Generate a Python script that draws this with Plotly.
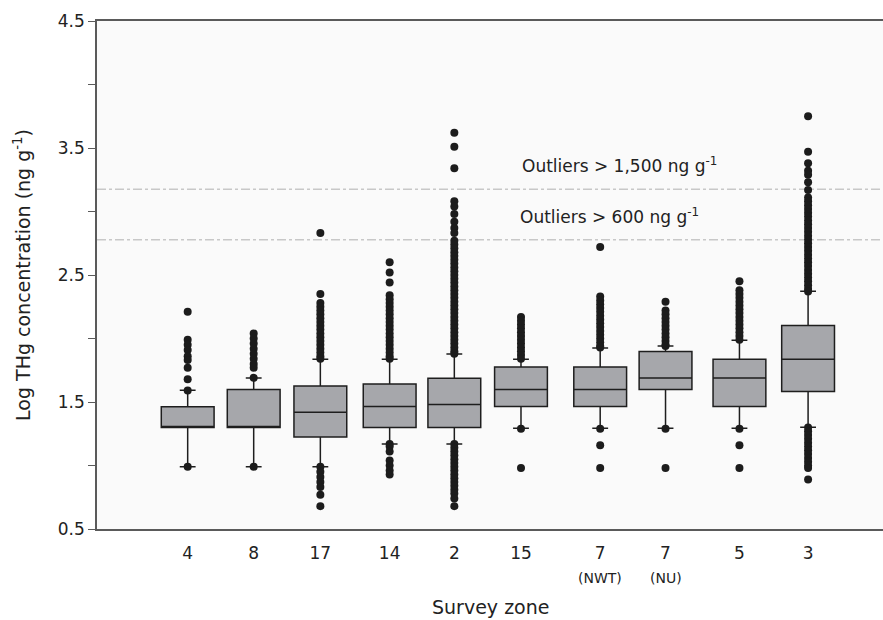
import plotly.graph_objects as go

# Survey zones, left to right, and their horizontal placement on the axis
zones = ["4", "8", "17", "14", "2", "15", "7", "7", "5", "3"]
zone_notes = ["", "", "", "", "", "", "(NWT)", "(NU)", "", ""]
zone_pos = [1.0, 2.0, 3.01, 4.06, 5.04, 6.05, 7.25, 8.24, 9.36, 10.40]

# Box statistics (log10 THg, ng/g)
q1 = [1.30, 1.30, 1.224, 1.30, 1.30, 1.464, 1.464, 1.598, 1.464, 1.582]
median = [1.30, 1.30, 1.419, 1.464, 1.480, 1.598, 1.598, 1.689, 1.689, 1.836]
q3 = [1.462, 1.598, 1.626, 1.642, 1.687, 1.776, 1.776, 1.897, 1.836, 2.102]
lower_fence = [0.99, 0.99, 0.99, 1.169, 1.169, 1.293, 1.293, 1.293, 1.293, 1.301]
upper_fence = [1.592, 1.689, 1.836, 1.836, 1.878, 1.836, 1.925, 1.941, 1.986, 2.372]

# Outlying observations per zone
out_z4 = [2.21, 1.99, 1.95, 1.91, 1.86, 1.83, 1.77, 1.68, 1.59, 0.99]
out_z8 = [2.04, 2.00, 1.96, 1.92, 1.88, 1.84, 1.80, 1.77, 1.69, 0.99]
out_z17 = [2.83, 2.35, 2.28, 2.25, 2.22, 2.19, 2.16, 2.13, 2.10, 2.07, 2.04,
           2.01, 1.98, 1.95, 1.92, 1.89, 1.86, 1.84,
           0.99, 0.95, 0.91, 0.87, 0.83, 0.77, 0.68]
out_z14 = [2.60, 2.52, 2.44, 2.34, 2.31, 2.28, 2.25, 2.22, 2.19, 2.16, 2.13,
           2.10, 2.07, 2.04, 2.01, 1.98, 1.95, 1.92, 1.89, 1.86, 1.84,
           1.17, 1.15, 1.11, 1.04, 1.00, 0.96, 0.93]
out_z2 = [3.62, 3.51, 3.34, 3.08, 3.04, 2.98, 2.92, 2.87, 2.83, 2.77, 2.74,
          2.71, 2.68, 2.65, 2.62, 2.59, 2.56, 2.53, 2.50, 2.47, 2.44, 2.41,
          2.38, 2.35, 2.32, 2.29, 2.26, 2.23, 2.20, 2.17, 2.14, 2.11, 2.08,
          2.05, 2.02, 1.99, 1.96, 1.93, 1.90, 1.88,
          1.17, 1.14, 1.11, 1.08, 1.05, 1.02, 0.99, 0.96, 0.93, 0.90, 0.87,
          0.84, 0.81, 0.78, 0.74, 0.68]
out_z15 = [2.17, 2.14, 2.11, 2.08, 2.05, 2.02, 1.99, 1.96, 1.93, 1.90, 1.87,
           1.84, 1.29, 0.98]
out_z7nwt = [2.72, 2.33, 2.30, 2.27, 2.24, 2.21, 2.18, 2.15, 2.12, 2.09, 2.06,
             2.03, 2.00, 1.97, 1.94, 1.93, 1.29, 1.16, 0.98]
out_z7nu = [2.29, 2.22, 2.19, 2.16, 2.13, 2.10, 2.07, 2.04, 2.01, 1.98, 1.95,
            1.94, 1.29, 0.98]
out_z5 = [2.45, 2.38, 2.35, 2.32, 2.29, 2.26, 2.23, 2.20, 2.17, 2.14, 2.11,
          2.08, 2.05, 2.02, 1.99, 1.29, 1.16, 0.98]
out_z3 = [3.75, 3.47, 3.38, 3.32, 3.29, 3.23, 3.17, 3.11, 3.08, 3.05, 3.02,
          2.99, 2.96, 2.93, 2.90, 2.87, 2.84, 2.81, 2.78, 2.75, 2.72, 2.69,
          2.66, 2.63, 2.60, 2.57, 2.54, 2.51, 2.48, 2.45, 2.42, 2.39, 2.37,
          1.30, 1.27, 1.24, 1.21, 1.18, 1.15, 1.12, 1.09, 1.06, 1.03, 1.00,
          0.98, 0.89]

# Reference concentrations (log10 of 1,500 and 600 ng/g)
ref_levels = [3.176, 2.778]
ref_labels = ["Outliers > 1,500 ng g<sup>-1</sup>", "Outliers > 600 ng g<sup>-1</sup>"]

outliers = [out_z4, out_z8, out_z17, out_z14, out_z2, out_z15,
            out_z7nwt, out_z7nu, out_z5, out_z3]

FONT = "DejaVu Sans, Liberation Sans, Arial, sans-serif"
TEXT = "#222222"

fig = go.Figure()

fig.add_trace(go.Box(
    x=zone_pos, q1=q1, median=median, q3=q3,
    lowerfence=lower_fence, upperfence=upper_fence,
    width=0.80, whiskerwidth=0.3,
    fillcolor="#a6a7ab",
    line=dict(color="#1e1e1e", width=1.5),
    boxpoints=False, showlegend=False, hoverinfo="skip",
))

ox, oy = [], []
for pos, vals in zip(zone_pos, outliers):
    ox.extend([pos] * len(vals))
    oy.extend(vals)

fig.add_trace(go.Scatter(
    x=ox, y=oy, mode="markers",
    marker=dict(color="#1c1c1c", size=8, line=dict(width=0)),
    showlegend=False, hoverinfo="skip",
))

for lvl in ref_levels:
    fig.add_shape(type="line", xref="paper", x0=0, x1=1, yref="y", y0=lvl, y1=lvl,
                  line=dict(color="#c8c8c8", width=1.5, dash="dashdot"), layer="below")

for lvl, lab, xl in zip(ref_levels, ref_labels, [6.035, 6.005]):
    fig.add_annotation(x=xl, y=lvl + 0.19, xref="x", yref="y", xanchor="left",
                       text=lab, showarrow=False,
                       font=dict(family=FONT, size=17, color=TEXT))

for pos, note in zip(zone_pos, zone_notes):
    if note:
        fig.add_annotation(x=pos, y=-0.097, xref="x", yref="paper", text=note,
                           showarrow=False, yanchor="middle",
                           font=dict(family=FONT, size=14, color=TEXT))

fig.add_annotation(x=5.59, y=-0.153, xref="x", yref="paper", text="Survey zone",
                   showarrow=False, yanchor="middle",
                   font=dict(family=FONT, size=19, color=TEXT))

fig.update_layout(
    width=883, height=620,
    margin=dict(l=97, r=0, t=21, b=91),
    paper_bgcolor="white", plot_bgcolor="#fafafa",
    font=dict(family=FONT, color=TEXT),
    xaxis=dict(
        range=[-0.374, 11.535], tickmode="array", tickvals=zone_pos, ticktext=zones,
        showline=True, mirror=True, linecolor="#5a5a5a", linewidth=1.5,
        showgrid=False, zeroline=False, ticks="", ticklabelstandoff=8,
        tickfont=dict(family=FONT, size=17, color=TEXT),
    ),
    yaxis=dict(
        range=[0.5, 4.5], tickmode="array",
        tickvals=[0.5, 1.0, 1.5, 2.0, 2.5, 3.0, 3.5, 4.0, 4.5],
        ticktext=["0.5", "", "1.5", "", "2.5", "", "3.5", "", "4.5"],
        showline=True, linecolor="#5a5a5a", linewidth=1.5,
        ticks="outside", ticklen=7, tickcolor="#5a5a5a", tickwidth=1.2,
        showgrid=False, zeroline=False,
        tickfont=dict(family=FONT, size=17, color=TEXT),
        title=dict(text="Log THg concentration (ng g<sup>-1</sup>)",
                   font=dict(family=FONT, size=19, color=TEXT), standoff=22),
    ),
)

fig.write_html("out.html")
